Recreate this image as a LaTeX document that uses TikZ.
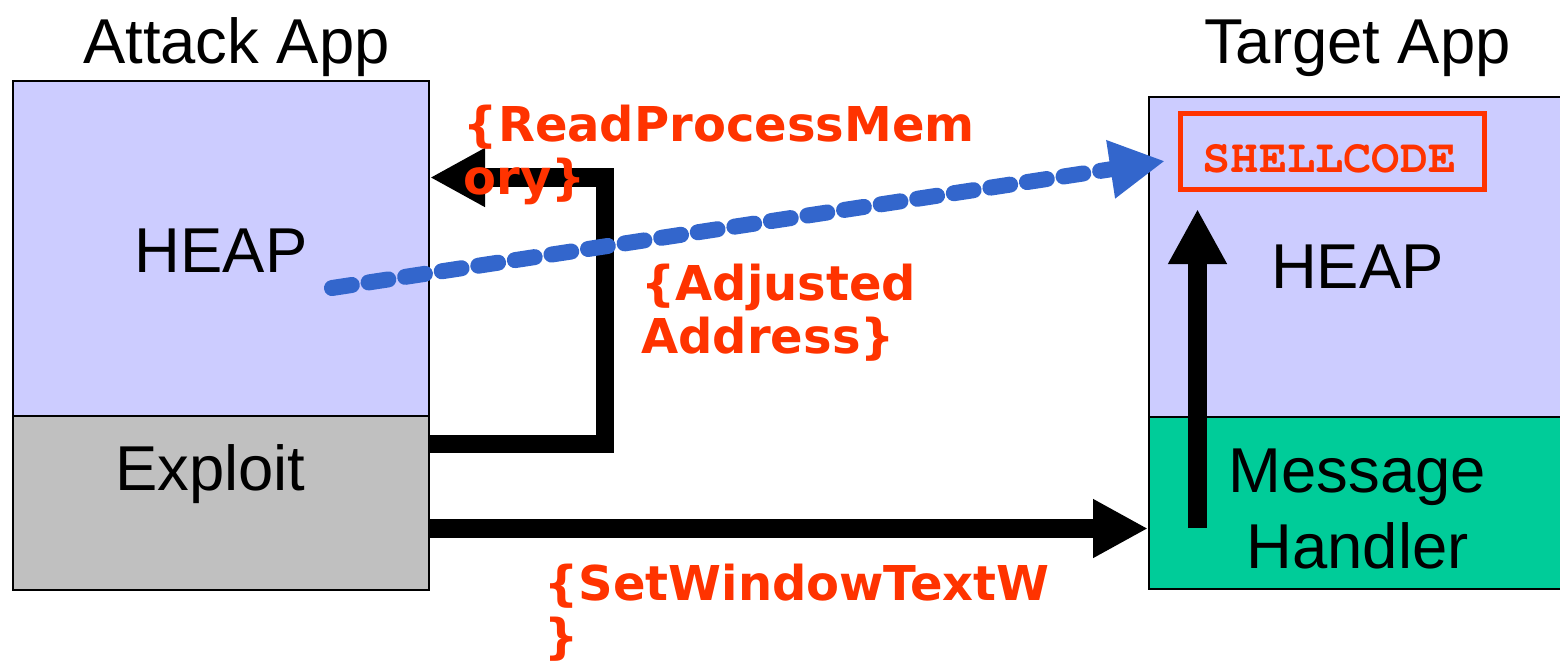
\documentclass[tikz,border=0pt]{standalone}
\usepackage[T1]{fontenc}
\usepackage{fontspec}
\setmainfont{Liberation Sans}
\newfontfamily\callfont{DejaVu Sans}
\newcommand\codefont{\usefont{T1}{pcr}{b}{n}}
\usetikzlibrary{calc,arrows.meta}
\definecolor{heapblue}{HTML}{CCCCFF}
\definecolor{exploitgray}{HTML}{C0C0C0}
\definecolor{handlergreen}{HTML}{00CC99}
\definecolor{callred}{HTML}{FF3300}
\definecolor{copyblue}{HTML}{3366CC}

\begin{document}
\begin{tikzpicture}[x=0.5pt,y=-0.5pt,
    mem/.style={draw,line width=1pt,inner sep=0pt},
    title/.style={font=\fontsize{31.7}{38}\selectfont,anchor=base,inner sep=0pt},
    api/.style={text=callred,font=\callfont\bfseries\fontsize{24}{26.5}\selectfont,align=left,anchor=base west,inner sep=0pt},
    fat/.style={line width=9.25pt,-{Triangle[length=27.5pt,width=27.5pt]}}]
    \useasboundingbox (0,0) rectangle (1560,666);
    % attack app
    \node[mem,fill=heapblue,minimum width=208pt,minimum height=167.5pt] (aheap) at (221,248.5) {};
    \node[mem,fill=exploitgray,minimum width=208pt,minimum height=87pt] (expl) at (221,503) {};
    \node[title] (atitle) at (236.5,63) {Attack App};
    \node[title] (aheaplbl) at (221,272) {HEAP};
    \node[title] (expllbl) at (210.5,490) {Exploit};
    % target app
    \node[mem,fill=heapblue,minimum width=208.5pt,minimum height=160pt] (theap) at (1357.5,257) {};
    \node[mem,fill=handlergreen,minimum width=208.5pt,minimum height=86pt] (mh) at (1357.5,503) {};
    \node[title] (ttitle) at (1357.5,63) {Target App};
    \node[title] (theaplbl) at (1357.5,288) {HEAP};
    \node[title,align=center] (mhlbl) at (1357.5,568) {Message\\Handler};
    \node[draw=callred,line width=2.5pt,minimum width=152pt,minimum height=38pt,inner sep=0pt] (sc) at (1332.5,151.5) {};
    \node[anchor=base,inner sep=0pt,text=callred,font=\codefont\fontsize{23.5}{28}\selectfont] (sclbl) at (1329.5,172) {SHELLCODE};
    % calls
    \coordinate (rpmturn) at (605,177.5);
    \draw[fat] ($(expl.north east)+(0,29)$) -| (rpmturn) -- (aheap.east |- rpmturn);
    \coordinate (swt) at (0,528.5);
    \draw[fat] (expl.east |- swt) -- (mh.west |- swt);
    \coordinate (upstart) at (1197.5,528);
    \draw[fat,shorten >=8.5pt] (upstart) -- (upstart |- sc.south);
    % copy into target heap
    \coordinate (copystart) at (332,288);
    \coordinate (copytip) at (1165,161);
    \draw[copyblue,line width=8pt,line cap=round,dash pattern=on 10pt off 8.5pt,-{Triangle[length=27.5pt,width=27.5pt]}] (copystart) -- (copytip);
    \node[api] (rpmlbl) at (463.5,194) {\{ReadProcessMem\\ory\}};
    \node[api] (adjlbl) at (641,353) {\{Adjusted\\Address\}};
    \node[api] (swtlbl) at (544,653) {\{SetWindowTextW\\\}};
\end{tikzpicture}
\end{document}
